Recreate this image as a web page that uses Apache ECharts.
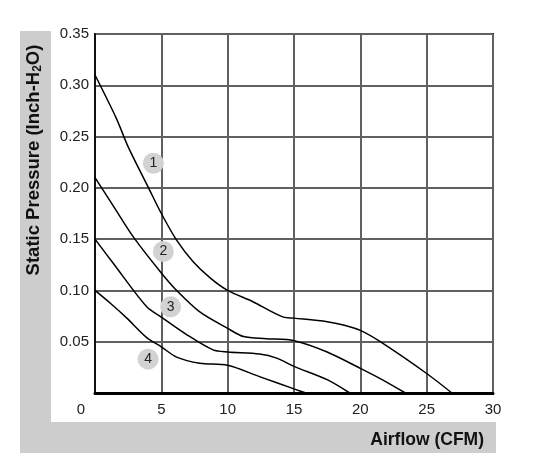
<!DOCTYPE html>
<html>
<head>
<meta charset="utf-8">
<script src="https://cdn.jsdelivr.net/npm/echarts@6/dist/echarts.min.js"></script>
<style>
  html, body { margin: 0; padding: 0; background: #fff; }
  #chart { width: 541px; height: 472px; }
</style>
</head>
<body>
<div id="chart"></div>
<script>
// fan curves, airflow (CFM) vs static pressure (inch-H2O)
const curve1 = [[0, 0.31], [1.6, 0.268], [2.5, 0.24], [4.0, 0.201], [5.0, 0.175], [6.15, 0.149], [7.4, 0.128], [8.7, 0.112], [10, 0.1], [11.9, 0.089], [14.2, 0.074], [15, 0.073], [17.5, 0.0695], [18.8, 0.066], [20, 0.061], [21.5, 0.05], [25, 0.019], [26.9, 0]];
const curve2 = [[0, 0.21], [1.4, 0.182], [2.9, 0.152], [5, 0.117], [6.15, 0.1], [7.9, 0.079], [10, 0.063], [11.2, 0.055], [12.9, 0.053], [15, 0.051], [17.5, 0.04], [20, 0.024], [21.5, 0.014], [23.4, 0]];
const curve3 = [[0, 0.15], [1.4, 0.126], [3.9, 0.084], [5, 0.074], [6.9, 0.057], [8.9, 0.042], [10, 0.04], [12.4, 0.038], [13.7, 0.034], [15, 0.026], [17.5, 0.013], [19.2, 0]];
const curve4 = [[0, 0.1], [1.2, 0.087], [2.4, 0.073], [3.9, 0.054], [5, 0.045], [6.15, 0.035], [7.9, 0.029], [10, 0.027], [12.4, 0.016], [15, 0.004], [15.9, 0]];
const markerNames = ["1", "2", "3", "4"];
const markerPos = [[4.4, 0.224], [5.15, 0.138], [5.7, 0.084], [4.0, 0.033]];

const yTitle = "{b|Static Pressure (Inch-H}{s|2}{b|O)}";
const xTitle = "Airflow (CFM)";

const chart = echarts.init(document.getElementById("chart"));

function lineSeries(data) {
    return {
        type: "line",
        data: data,
        smooth: 0.3,
        symbol: "none",
        lineStyle: { color: "#000", width: 1.5 },
        z: 3
    };
}

const option = {
    backgroundColor: "#fff",
    animation: false,
    textStyle: { fontFamily: "Liberation Sans, Arial, sans-serif" },
    graphic: [
        { type: "rect", shape: { x: 20, y: 31, width: 476, height: 422 }, style: { fill: "#cdcdcd" }, z: -2 },
        { type: "rect", shape: { x: 51, y: 31, width: 445, height: 391 }, style: { fill: "#fff" }, z: -1 },
        {
            type: "text", x: 34, y: 160, rotation: Math.PI / 2,
            style: {
                text: yTitle, align: "center", verticalAlign: "middle",
                rich: {
                    b: { fontSize: 18.5, fontWeight: "bold", fill: "#111", fontFamily: "Liberation Sans" },
                    s: { fontSize: 12, fontWeight: "bold", fill: "#111", fontFamily: "Liberation Sans", padding: [8, 0, 0, 0] }
                }
            }
        },
        {
            type: "text", x: 484, y: 440,
            style: { text: xTitle, align: "right", verticalAlign: "middle", fontSize: 17.5, fontWeight: "bold", fill: "#111", fontFamily: "Liberation Sans" }
        }
    ],
    grid: {
        left: 95, right: 48, top: 34, bottom: 79,
        show: true, borderColor: "#111", borderWidth: 2
    },
    xAxis: {
        type: "value", min: 0, max: 30, interval: 5,
        axisLine: { show: true, lineStyle: { color: "#000", width: 3 } },
        axisTick: { show: false },
        splitLine: { show: true, lineStyle: { color: "#606060", width: 2 } },
        axisLabel: {
            color: "#222", fontSize: 15, margin: 9,
            formatter: function (v) { return v === 0 ? "{z|0}" : String(v); },
            rich: { z: { fontSize: 15, color: "#222", padding: [0, 28, 0, 0] } }
        }
    },
    yAxis: {
        type: "value", min: 0, max: 0.35, interval: 0.05,
        axisLine: { show: true, lineStyle: { color: "#111", width: 2 } },
        axisTick: { show: false },
        splitLine: { show: true, lineStyle: { color: "#606060", width: 2 } },
        axisLabel: {
            color: "#222", fontSize: 15, margin: 6, showMinLabel: false,
            formatter: function (v) { return v === 0 ? "" : v.toFixed(2); }
        }
    },
    series: [
        lineSeries(curve1),
        lineSeries(curve2),
        lineSeries(curve3),
        lineSeries(curve4),
        {
            type: "scatter",
            data: markerPos.map(function (p, i) { return { value: p, name: markerNames[i] }; }),
            symbolSize: 21,
            itemStyle: { color: "#d2d2d2", opacity: 1 },
            label: { show: true, position: "inside", formatter: "{b}", color: "#222", fontSize: 14 },
            z: 4
        }
    ]
};

chart.setOption(option);
</script>
</body>
</html>
